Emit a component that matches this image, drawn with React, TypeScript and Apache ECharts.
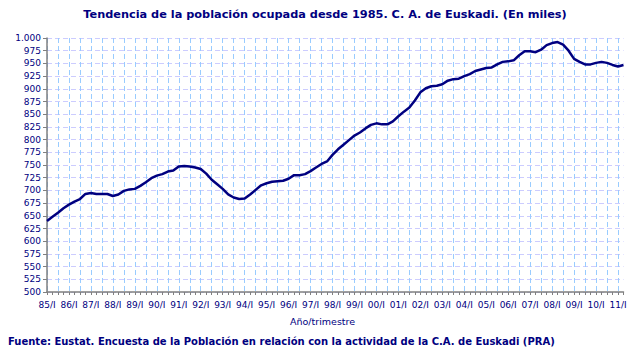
import React, { useEffect, useRef } from "react";
import * as echarts from "echarts";

const years = ["85","86","87","88","89","90","91","92","93","94","95","96","97","98","99","00","01","02","03","04","05","06","07","08","09","10","11"];
const quarters = ["I", "II", "III", "IV"];
const categories: string[] = [];
years.forEach((y) => quarters.forEach((q) => categories.push(y + "/" + q)));
categories.splice(106);

const ocupados = [
  640, 648, 656, 665, 672, 678, 683, 693, 695, 693, 693, 693,
  689, 692, 699, 702, 703, 709, 716, 724, 729, 732, 737, 739,
  747, 748, 747, 745, 742, 733, 721, 712, 703, 692, 686, 683,
  684, 692, 701, 710, 714, 717, 718, 719, 723, 730, 730, 732,
  738, 745, 752, 757, 770, 781, 790, 799, 808, 814, 822, 829,
  832, 830, 830, 836, 846, 855, 863, 877, 893, 901, 905, 906,
  909, 916, 919, 920, 925, 929, 935, 938, 941, 942, 948, 953,
  954, 956, 966, 974, 974, 972, 977, 986, 990, 992, 987, 975,
  959, 953, 948, 948, 951, 953, 951, 947, 944, 947,
];

const NAVY = "#000080";

export default function App() {
  const ref = useRef<HTMLDivElement>(null);
  useEffect(() => {
    if (!ref.current) return;
    const chart = echarts.init(ref.current, null, { renderer: "svg" });
    chart.setOption({
      animation: false,
      backgroundColor: "#ffffff",
      title: {
        text: "Tendencia de la población ocupada desde 1985. C. A. de Euskadi. (En miles)",
        left: 320,
        textAlign: "center",
        top: 4,
        textStyle: { color: NAVY, fontFamily: "DejaVu Sans", fontWeight: "bold", fontSize: 11.3 },
      },
      grid: { left: 47, right: 19.5, top: 38, bottom: 67 },
      xAxis: {
        type: "category",
        data: categories,
        boundaryGap: false,
        axisLine: { lineStyle: { color: "#808080", width: 1.5 } },
        axisTick: { interval: 0, length: 3, lineStyle: { color: "#808080" } },
        axisLabel: {
          interval: 3,
          color: NAVY,
          fontFamily: "DejaVu Sans",
          fontSize: 9,
          margin: 8,
        },
        splitLine: {
          show: true,
          interval: 1,
          lineStyle: { color: "#99ccff", type: [5, 3], width: 1 },
        },
      },
      yAxis: {
        type: "value",
        min: 500,
        max: 1000,
        interval: 25,
        axisLine: { show: true, lineStyle: { color: "#808080", width: 1.5 } },
        axisTick: { show: true, length: 4, lineStyle: { color: "#808080" } },
        axisLabel: {
          color: NAVY,
          fontFamily: "DejaVu Sans",
          fontSize: 9,
          margin: 6,
          formatter: (v: number) => (v >= 1000 ? "1.000" : String(v)),
        },
        splitLine: { lineStyle: { color: "#ccccff", type: [5, 3], width: 1 } },
      },
      series: [
        {
          type: "line",
          data: ocupados,
          showSymbol: false,
          symbol: "none",
          lineStyle: { color: NAVY, width: 2.5 },
        },
      ],
      graphic: [
        {
          type: "text",
          left: 290,
          top: 316,
          style: {
            text: "Año/trimestre",
            fill: NAVY,
            font: "9.5px 'DejaVu Sans'",
          },
        },
        {
          type: "text",
          left: 8,
          top: 336,
          style: {
            text: "Fuente: Eustat. Encuesta de la Población en relación con la actividad de la C.A. de Euskadi (PRA)",
            fill: NAVY,
            font: "bold 10px 'DejaVu Sans'",
          },
        },
      ],
    });
    return () => chart.dispose();
  }, []);
  return <div ref={ref} style={{ width: 643, height: 359, position: "absolute", left: 0, top: 0 }} />;
}
